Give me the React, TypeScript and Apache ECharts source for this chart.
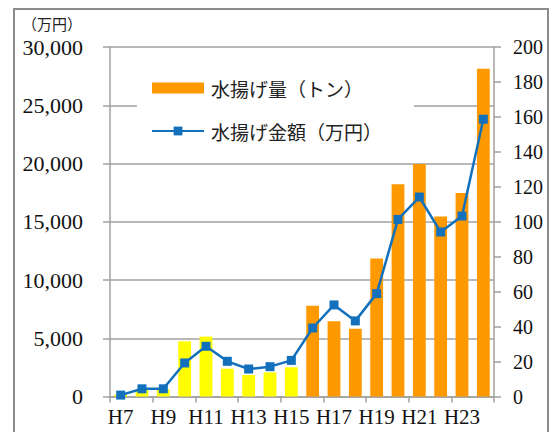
import React, { useEffect, useRef } from "react";
import * as echarts from "echarts";

const categories = ["H7", "H8", "H9", "H10", "H11", "H12", "H13", "H14", "H15", "H16", "H17", "H18", "H19", "H20", "H21", "H22", "H23", "H24"];
// 水揚げ量（トン） — right axis
const catchTons = [1, 4, 4, 31.6, 34.3, 15.9, 12.3, 13.8, 16.7, 52, 43, 38.7, 79, 121.5, 133, 103, 116.5, 187.5];
// 水揚げ金額（万円） — left axis
const catchValue = [120, 660, 660, 2880, 4310, 3020, 2360, 2560, 3100, 5880, 7860, 6490, 8830, 15200, 17120, 14120, 15490, 23800];
const yellowCount = 9; // H7–H15 drawn in yellow

const barName = "水揚げ量（トン）";
const lineName = "水揚げ金額（万円）";
const unitLabel = "（万円）";

const YELLOW = "#FFFF00";
const ORANGE = "#FF9900";
const BLUE = "#1270BD";
const GRID = "#A0A0A0";
const SERIF = "'Liberation Serif', serif";
const CJK = "'Noto Sans CJK JP', sans-serif";

function withCommas(v: number): string {
  return String(v).replace(/\B(?=(\d{3})+(?!\d))/g, ",");
}

export default function App() {
  const ref = useRef<HTMLDivElement>(null);
  useEffect(() => {
    if (!ref.current) return;
    const chart = echarts.init(ref.current, null, { renderer: "svg" });
    chart.setOption({
      animation: false,
      backgroundColor: "#fff",
      grid: { left: 110, right: 55, top: 47, bottom: 35.5, containLabel: false },
      graphic: [
        {
          type: "rect",
          shape: { x: 14, y: 9, width: 534, height: 440 },
          style: { fill: "none", stroke: "#8C8C8C", lineWidth: 2 },
          silent: true,
        },
        {
          type: "text",
          x: 22,
          y: 23,
          style: { text: unitLabel, fill: "#222", fontSize: 15, fontFamily: CJK, verticalAlign: "middle", align: "left" },
        },
      ],
      legend: {
        orient: "vertical",
        left: 137,
        top: 58,
        backgroundColor: "#fff",
        padding: [19, 32, 14, 14],
        itemWidth: 52,
        itemHeight: 11,
        itemGap: 21,
        textStyle: { fontSize: 19, fontFamily: CJK, color: "#222", lineHeight: 22, padding: [0, 0, 0, 2] },
        data: [{ name: barName, icon: "rect" }, { name: lineName }],
      },
      xAxis: {
        type: "category",
        data: categories,
        boundaryGap: true,
        axisLine: { lineStyle: { color: GRID, width: 1.5 } },
        axisTick: { show: true, length: 6, inside: false, lineStyle: { color: GRID, width: 1.5 } },
        axisLabel: { interval: 1, fontSize: 21, fontFamily: SERIF, color: "#111", margin: 10 },
      },
      yAxis: [
        {
          type: "value",
          min: 0,
          max: 30000,
          interval: 5000,
          position: "left",
          axisLine: { show: true, lineStyle: { color: GRID, width: 1.5 } },
          axisTick: { show: true, length: 7, lineStyle: { color: GRID, width: 1.5 } },
          splitLine: { show: true, lineStyle: { color: GRID, width: 1.5 } },
          axisLabel: { fontSize: 22, fontFamily: SERIF, color: "#111", margin: 27, formatter: (v: number) => withCommas(v) },
        },
        {
          type: "value",
          min: 0,
          max: 200,
          interval: 20,
          position: "right",
          axisLine: { show: true, lineStyle: { color: GRID, width: 1.5 } },
          axisTick: { show: true, length: 7, lineStyle: { color: GRID, width: 1.5 } },
          splitLine: { show: false },
          axisLabel: { fontSize: 20, fontFamily: SERIF, color: "#111", margin: 19 },
        },
      ],
      series: [
        {
          name: barName,
          type: "bar",
          yAxisIndex: 1,
          barWidth: "60%",
          itemStyle: { color: ORANGE },
          data: catchTons.map((v, i) => (i < yellowCount ? { value: v, itemStyle: { color: YELLOW } } : v)),
          z: 2,
        },
        {
          name: lineName,
          type: "line",
          yAxisIndex: 0,
          data: catchValue,
          symbol: "rect",
          symbolSize: 9,
          lineStyle: { color: BLUE, width: 2.5 },
          itemStyle: { color: BLUE },
          z: 3,
        },
      ],
    });
    return () => chart.dispose();
  }, []);
  return <div ref={ref} style={{ position: "fixed", left: 0, top: 0, width: 549, height: 432, background: "#fff" }} />;
}
